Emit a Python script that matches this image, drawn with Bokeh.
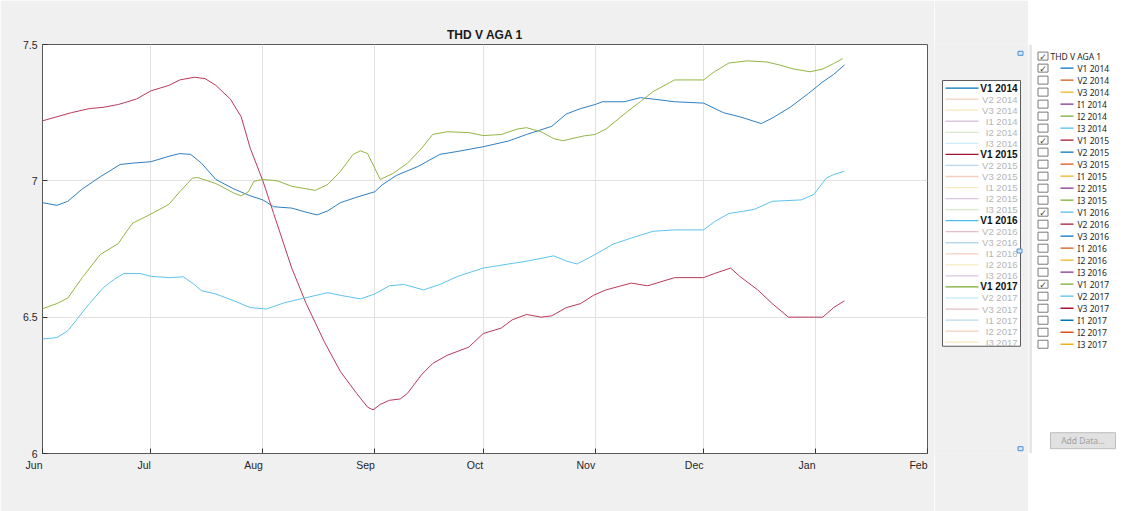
import pandas as pd
from bokeh.plotting import figure
from bokeh.models import (Range1d, FixedTicker, DatetimeTickFormatter, ColumnDataSource)
from bokeh.layouts import row
from bokeh.embed import file_html
from bokeh.resources import INLINE
from bokeh.core.properties import value

# ---------------- data ----------------
TITLE = "THD V AGA 1"
BASE_DATE = "2016-06-01"
END_DATE = "2017-02-01"
month_labels = ["Jun", "Jul", "Aug", "Sep", "Oct", "Nov", "Dec", "Jan", "Feb"]
y_ticks = [6, 6.5, 7, 7.5]
y_tick_labels = ["6", "6.5", "7", "7.5"]

quantities = ["V1", "V2", "V3", "I1", "I2", "I3"]
years = ["2014", "2015", "2016", "2017"]
shown = ["V1 2014", "V1 2015", "V1 2016", "V1 2017"]

# days since 1 June, THD values
v1_2014_days = [0, 4, 7, 11, 16, 21.5, 25, 30, 35, 38, 41, 44, 48, 53, 57.5, 61, 64, 69, 73, 76,
                79, 82.5, 87, 92, 94, 98, 104, 110, 115, 122, 129, 134, 141, 145, 149, 153, 155,
                161, 165.5, 169, 175, 183, 188.5, 193, 199, 202, 207, 212, 216, 219, 222]
v1_2014_vals = [6.92, 6.91, 6.925, 6.97, 7.015, 7.06, 7.065, 7.07, 7.09, 7.10, 7.097, 7.065, 7.005,
                6.97, 6.945, 6.93, 6.905, 6.90, 6.885, 6.875, 6.89, 6.92, 6.94, 6.96, 6.985, 7.02,
                7.053, 7.097, 7.108, 7.125, 7.146, 7.17, 7.20, 7.245, 7.265, 7.28, 7.29, 7.29,
                7.305, 7.30, 7.29, 7.285, 7.25, 7.235, 7.21, 7.23, 7.27, 7.32, 7.363, 7.39, 7.425]

v1_2015_days = [0, 4, 8, 13, 17, 21, 26, 30, 35, 38, 42, 45, 48, 52, 55, 57.5, 61, 64, 69, 73,
                78, 82.5, 87, 90, 91.5, 93.5, 96, 99, 101, 105, 108, 112, 118, 122, 127, 130, 134,
                138, 141, 145, 149, 152.5, 156, 163, 167.5, 175, 183, 186, 190.5, 193, 198, 202,
                206.5, 212, 216, 219, 222]
v1_2015_vals = [7.22, 7.235, 7.25, 7.265, 7.27, 7.28, 7.30, 7.33, 7.35, 7.37, 7.38, 7.375, 7.35,
                7.30, 7.235, 7.12, 7.0, 6.88, 6.68, 6.55, 6.41, 6.30, 6.22, 6.17, 6.16, 6.18, 6.195,
                6.20, 6.22, 6.29, 6.33, 6.36, 6.39, 6.44, 6.46, 6.49, 6.51, 6.50, 6.505, 6.535,
                6.55, 6.58, 6.60, 6.625, 6.615, 6.645, 6.645, 6.66, 6.68, 6.65, 6.60, 6.55, 6.50,
                6.50, 6.50, 6.535, 6.56]

v1_2016_days = [0, 4, 7, 10, 13, 17, 20, 22.5, 27, 30, 35, 39, 42, 44, 48, 53, 57.5, 62, 67, 71.5,
                79, 82.5, 88, 92, 96, 100, 105.5, 110, 115, 122, 129, 134, 141.5, 145, 148, 153,
                158, 163, 169, 175, 183, 186, 190, 197, 202, 210, 213.5, 217, 219, 222]
v1_2016_vals = [6.42, 6.425, 6.45, 6.50, 6.55, 6.61, 6.64, 6.66, 6.66, 6.65, 6.645, 6.648, 6.62,
                6.597, 6.585, 6.56, 6.535, 6.53, 6.553, 6.567, 6.59, 6.58, 6.567, 6.585, 6.615,
                6.62, 6.60, 6.62, 6.65, 6.68, 6.695, 6.705, 6.725, 6.706, 6.695, 6.73, 6.768,
                6.79, 6.815, 6.82, 6.82, 6.85, 6.88, 6.895, 6.925, 6.93, 6.95, 7.01, 7.023, 7.035]

v1_2017_days = [0, 4, 7, 11, 16, 21, 22.5, 25, 30, 35, 38, 41.5, 43, 48, 53, 55, 57, 58.5, 61, 65,
                69, 75.5, 79, 82.5, 86, 88, 90, 92, 93.5, 97, 101, 105, 108, 112, 118, 122, 127,
                131.5, 134, 138, 141.5, 144, 150, 153, 156, 162, 165.5, 169, 175, 183, 186, 190,
                195, 200.5, 204, 208, 212.5, 216, 219, 221.5]
v1_2017_vals = [6.531, 6.55, 6.57, 6.645, 6.73, 6.77, 6.80, 6.845, 6.878, 6.914, 6.96, 7.01, 7.012,
                6.99, 6.955, 6.945, 6.96, 6.998, 7.005, 7.0, 6.98, 6.965, 6.987, 7.035, 7.097,
                7.11, 7.10, 7.046, 7.005, 7.027, 7.064, 7.12, 7.17, 7.18, 7.177, 7.166, 7.17,
                7.19, 7.195, 7.18, 7.155, 7.147, 7.165, 7.17, 7.19, 7.255, 7.29, 7.327, 7.37,
                7.37, 7.40, 7.432, 7.44, 7.436, 7.425, 7.41, 7.40, 7.41, 7.43, 7.448]

palette = ["#0072BD", "#D95319", "#EDB120", "#7E2F8E", "#77AC30", "#4DBEEE", "#A2142F"]
# how the thin plotted lines look on screen
plot_line_colors = {"V1 2014": "#2f7fc2", "V1 2015": "#b83a58",
                    "V1 2016": "#5fc3ec", "V1 2017": "#93b543"}

series_names = [f"{q} {y}" for y in years for q in quantities]
series_colors = [palette[i % len(palette)] for i in range(len(series_names))]
series_data = {
    "V1 2014": (v1_2014_days, v1_2014_vals),
    "V1 2015": (v1_2015_days, v1_2015_vals),
    "V1 2016": (v1_2016_days, v1_2016_vals),
    "V1 2017": (v1_2017_days, v1_2017_vals),
}

# ---------------- main axes ----------------
FONT = "Liberation Sans"
GRAY = "#f0f0f0"
H = 511
base = pd.Timestamp(BASE_DATE)
end = pd.Timestamp(END_DATE)
month_ms = [int(t.value // 10**6) for t in pd.date_range(BASE_DATE, END_DATE, freq="MS")]

p = figure(width=934, height=H, x_axis_type="datetime",
           x_range=Range1d(base, end), y_range=Range1d(6, 7.5),
           output_backend="svg", toolbar_location=None,
           min_border_left=42, min_border_right=7, min_border_top=44, min_border_bottom=58)
p.background_fill_color = "white"
p.border_fill_color = GRAY
p.outline_line_color = "#5a5a5a"
p.outline_line_width = 1

p.title.text = TITLE
p.title.align = "center"
p.title.text_font = FONT
p.title.text_font_size = "12px"
p.title.text_font_style = "bold"
p.title.text_color = "#1a1a1a"
p.title.standoff = 5


def style_axis(ax):
    ax.axis_line_color = None
    ax.major_tick_in = 5
    ax.major_tick_out = 0
    ax.minor_tick_line_color = None
    ax.major_tick_line_color = "#333333"
    ax.major_label_text_font = FONT
    ax.major_label_text_color = "#262626"
    ax.major_label_text_font_size = "10.5px"


xa = p.xaxis[0]
xa.ticker = FixedTicker(ticks=month_ms)
xa.formatter = DatetimeTickFormatter(days="%b", months="%b", years="%b")
xa.major_label_overrides = {m: lab for m, lab in zip(month_ms, month_labels)}
style_axis(xa)
xa.major_label_orientation = 0.0001   # MATLAB puts the month name just left of its tick
xa.major_label_standoff = 11

ya = p.yaxis[0]
ya.ticker = FixedTicker(ticks=y_ticks)
ya.major_label_overrides = {t: lab for t, lab in zip(y_ticks, y_tick_labels)}
style_axis(ya)
ya.major_label_standoff = 5

p.grid.grid_line_color = "#e2e2e2"
p.grid.grid_line_width = 1

for name in series_names:
    if name in series_data:
        days, vals = series_data[name]
        src = ColumnDataSource(dict(x=[base + pd.Timedelta(days=d) for d in days], y=vals))
        p.line("x", "y", source=src, line_color=plot_line_colors[name], line_width=1)

# ---------------- legend (MATLAB style) ----------------
SW = 94
side = figure(width=SW, height=H, x_range=Range1d(0, SW), y_range=Range1d(H, 0),
              output_backend="svg", toolbar_location=None, min_border=0,
              x_axis_location=None, y_axis_location=None)
side.grid.visible = False
side.outline_line_color = None
side.background_fill_color = GRAY
side.border_fill_color = GRAY

side.quad(left=[8], right=[86], top=[45], bottom=[377], fill_color="white",
          line_color="#5a5a5a", line_width=1)
row_h = 13.8
ys = [54.5 + i * row_h for i in range(len(series_names))]
alphas = [1.0 if n in shown else 0.28 for n in series_names]
side.segment(x0=[11] * len(ys), y0=ys, x1=[44] * len(ys), y1=ys,
             line_color=series_colors, line_alpha=alphas, line_width=1.3)
vis = [i for i, n in enumerate(series_names) if n in shown]
hid = [i for i, n in enumerate(series_names) if n not in shown]
side.text(x=[83] * len(vis), y=[ys[i] for i in vis], text=[series_names[i] for i in vis],
          text_align="right", text_baseline="middle", text_font=value(FONT),
          text_font_size=value("10px"), text_font_style="bold", text_color="#111111")
side.text(x=[83] * len(hid), y=[ys[i] for i in hid], text=[series_names[i] for i in hid],
          text_align="right", text_baseline="middle", text_font=value(FONT),
          text_font_size=value("9.5px"), text_color="#b5b5b5")
# selection handles
side.rect(x=[86, 85, 86], y=[11, 258, 505], width=5, height=5, fill_color="#d7e7f7",
          line_color="#4a8fd8", line_width=1)

# ---------------- plot browser panel ----------------
PW = 99
panel = figure(width=PW, height=H, x_range=Range1d(0, PW), y_range=Range1d(H, 0),
               output_backend="svg", toolbar_location=None, min_border=0,
               x_axis_location=None, y_axis_location=None)
panel.grid.visible = False
panel.outline_line_color = None
panel.background_fill_color = "white"
panel.border_fill_color = "white"
panel.quad(left=[0], right=[2], top=[0], bottom=[H], fill_color=GRAY, line_color=None)
panel.segment(x0=[2.5], y0=[0], x1=[2.5], y1=[H], line_color="#cfcfcf", line_width=1)

PFONT = "Noto Sans"
panel_rows = [TITLE] + series_names
py = [14.5 + 15 * k for k in range(len(panel_rows))]
checked = [1 if (k == 0 or panel_rows[k] in shown) else 0 for k in range(len(panel_rows))]
panel.rect(x=[14.5] * len(py), y=py, width=10, height=10, fill_color="white",
           line_color="#7a7a7a", line_width=1)
ck = [k for k in range(len(py)) if checked[k]]
panel.text(x=[14.5] * len(ck), y=[py[k] + 0.5 for k in ck], text=["\u2713"] * len(ck),
           text_align="center", text_baseline="middle", text_font=value("DejaVu Sans"),
           text_font_size=value("9px"), text_color="#444444")
panel.text(x=[22], y=[py[0]], text=[TITLE], text_baseline="middle", text_font=value(PFONT),
           text_font_size=value("8.5px"), text_color="#1e1e1e")
panel.segment(x0=[32] * len(series_names), y0=py[1:], x1=[45] * len(series_names), y1=py[1:],
              line_color=series_colors, line_width=1.3)
panel.text(x=[49] * len(series_names), y=py[1:], text=series_names, text_baseline="middle",
           text_font=value(PFONT), text_font_size=value("8.5px"), text_color="#1e1e1e")
panel.quad(left=[22], right=[87], top=[485], bottom=[505], fill_color="#e1e1e1",
           line_color="#bdbdbd")
panel.text(x=[54.5], y=[495], text=["Add Data..."], text_align="center", text_baseline="middle",
           text_font=value(PFONT), text_font_size=value("8.5px"), text_color="#a0a0a0")

layout = row(p, side, panel)
open("out.html", "w").write(file_html(layout, INLINE))
